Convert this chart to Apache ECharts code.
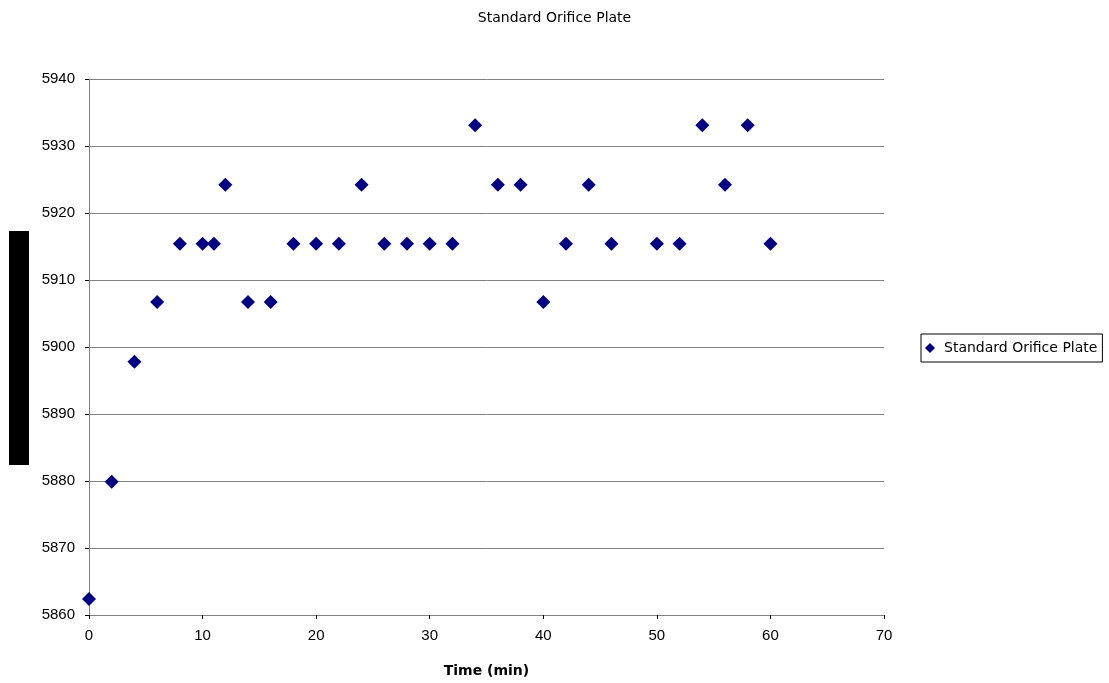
<!DOCTYPE html>
<html>
<head>
<meta charset="utf-8">
<script src="https://cdn.jsdelivr.net/npm/echarts@6/dist/echarts.min.js"></script>
<style>
  html, body { margin: 0; padding: 0; background: #fff; }
  #chart { width: 1109px; height: 683px; }
</style>
</head>
<body>
<div id="chart"></div>
<script>
// Elapsed time in minutes and the measured reading at each sample
const timeMin = [0, 2, 4, 6, 8, 10, 11, 12, 14, 16, 18, 20, 22, 24, 26, 28, 30, 32, 34, 36, 38, 40, 42, 44, 46, 50, 52, 54, 56, 58, 60];
const reading = [5862.4, 5879.9, 5897.8, 5906.7, 5915.4, 5915.4, 5915.4, 5924.2, 5906.7, 5906.7, 5915.4, 5915.4, 5915.4, 5924.2, 5915.4, 5915.4, 5915.4, 5915.4, 5933.1, 5924.2, 5924.2, 5906.7, 5915.4, 5924.2, 5915.4, 5915.4, 5915.4, 5933.1, 5924.2, 5933.1, 5915.4];
const seriesName = 'Standard Orifice Plate';

const points = timeMin.map((t, i) => [t, reading[i]]);
const labelFont = 'Liberation Sans, Arial, sans-serif';
const textFont = 'DejaVu Sans, sans-serif';

const chart = echarts.init(document.getElementById('chart'), null, { renderer: 'canvas' });
chart.setOption({
  animation: false,
  backgroundColor: '#ffffff',
  title: {
    text: 'Standard Orifice Plate',
    left: 'center',
    top: 6,
    textStyle: { fontFamily: textFont, fontSize: 14, fontWeight: 'normal', color: '#000' }
  },
  legend: {
    left: 921,
    top: 334,
    orient: 'vertical',
    data: [seriesName],
    icon: 'diamond',
    itemWidth: 10,
    itemHeight: 10,
    itemGap: 0,
    padding: [7, 5, 7, 4],
    borderColor: '#000',
    borderWidth: 1,
    borderRadius: 0,
    textStyle: { fontFamily: textFont, fontSize: 14, color: '#000', padding: [0, 0, 0, 4] }
  },
  grid: { left: 89, top: 79, width: 795, height: 540, containLabel: false },
  xAxis: {
    type: 'value',
    min: 0, max: 70, interval: 10,
    name: 'Time (min)',
    nameLocation: 'middle',
    nameGap: 49,
    nameTextStyle: { fontFamily: textFont, fontSize: 14, fontWeight: 'bold', color: '#000' },
    axisLine: { show: true, onZero: false, lineStyle: { color: '#808080', width: 1 } },
    axisTick: { show: true, length: 4, lineStyle: { color: '#000' } },
    axisLabel: { fontFamily: labelFont, fontSize: 15, color: '#000', margin: 13 },
    splitLine: { show: false }
  },
  yAxis: {
    type: 'value',
    min: 5860, max: 5940, interval: 10,
    axisLine: { show: true, lineStyle: { color: '#808080', width: 1 } },
    axisTick: { show: true, length: 4, lineStyle: { color: '#000' } },
    axisLabel: {
      fontFamily: labelFont, fontSize: 15, color: '#000', margin: 14,
      formatter: (v) => String(v)
    },
    splitLine: { show: true, lineStyle: { color: '#808080', width: 1 } }
  },
  graphic: [{
    type: 'rect',
    left: 9, top: 231,
    shape: { width: 20, height: 234 },
    style: { fill: '#000' },
    silent: true
  }],
  series: [{
    name: seriesName,
    type: 'scatter',
    symbol: 'diamond',
    symbolSize: 14,
    data: points,
    itemStyle: { color: '#000080', opacity: 1 }
  }]
});
</script>
</body>
</html>
